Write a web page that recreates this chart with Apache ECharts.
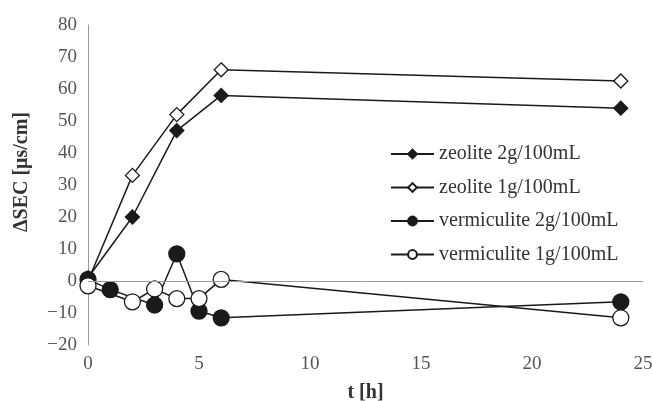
<!DOCTYPE html>
<html><head><meta charset="utf-8">
<script src="https://cdn.jsdelivr.net/npm/echarts@6/dist/echarts.min.js"></script>
<style>html,body{margin:0;padding:0;background:#fff}#c{width:653px;height:401px}</style>
</head><body><div id="c"></div>
<script>
const seriesNames = ['zeolite 2g/100mL','zeolite 1g/100mL','vermiculite 2g/100mL','vermiculite 1g/100mL'];
const zeolite2 = [[0,1],[2,20],[4,47],[6,58],[24,54]];
const zeolite1 = [[0,0],[2,33],[4,52],[6,66],[24,62.5]];
const vermiculite2 = [[0,0.5],[1,-2.7],[3,-7.5],[4,8.5],[5,-9.4],[6,-11.5],[24,-6.5]];
const vermiculite1 = [[0,-1.5],[2,-6.5],[3,-2.5],[4,-5.5],[5,-5.5],[6,0.5],[24,-11.5]];
const xTicks = {min:0,max:25,interval:5};
const yTicks = {min:-20,max:80,interval:10};
const xTitle = 't [h]';
const yTitle = 'ΔSEC [μs/cm]';

const font = 'Liberation Serif';
const lineCol = '#1a1a1a';
function mk(name, data, symbol, size, fill){
  return {name, type:'line', data, symbol, symbolSize:size,
    lineStyle:{color:lineCol,width:1.5},
    itemStyle:{color:fill,borderColor:lineCol,borderWidth:1.3},
    emphasis:{disabled:true}, z:3};
}
const s = [
  mk(seriesNames[0], zeolite2, 'diamond', 14, '#1a1a1a'),
  mk(seriesNames[1], zeolite1, 'diamond', 14, '#ffffff'),
  mk(seriesNames[2], vermiculite2, 'circle', 16, '#1a1a1a'),
  mk(seriesNames[3], vermiculite1, 'circle', 16, '#ffffff')
];
s[0].markLine = {silent:true, symbol:'none', label:{show:false},
  lineStyle:{color:'#9a9a9a',type:'solid',width:1}, data:[{yAxis:0}]};
const minus = v => String(v).replace('-', '\u2212');
const chart = echarts.init(document.getElementById('c'));
chart.setOption({
  animation:false,
  backgroundColor:'#fff',
  grid:{left:88,right:10,top:25,bottom:56,outerBoundsMode:'none',containLabel:false},
  legend:{show:true, orient:'vertical', left:385, top:139, itemWidth:43, itemHeight:11, itemGap:13.5,
    textStyle:{fontFamily:font,fontSize:20,lineHeight:20,color:'#333'}, data:seriesNames, selectedMode:false},
  graphic:[{type:'text', x:22, y:172, rotation:Math.PI/2,
    style:{text:yTitle, font:'bold 20px "Liberation Serif"', fill:'#333', textAlign:'center', textVerticalAlign:'middle'}}],
  xAxis:{type:'value', min:xTicks.min, max:xTicks.max, interval:xTicks.interval,
    name:xTitle, nameLocation:'middle', nameGap:38,
    nameTextStyle:{fontFamily:font,fontSize:20,fontWeight:'bold',color:'#333'},
    axisLine:{show:false}, axisTick:{show:false}, splitLine:{show:false},
    axisLabel:{fontFamily:font,fontSize:19,color:'#555',margin:10}},
  yAxis:{type:'value', min:yTicks.min, max:yTicks.max, interval:yTicks.interval,
    axisLine:{show:true,onZero:false,lineStyle:{color:'#9a9a9a',width:1}}, axisTick:{show:false}, splitLine:{show:false},
    axisLabel:{fontFamily:font,fontSize:19,color:'#555',margin:11,formatter:minus}},
  series:s
});
</script></body></html>
